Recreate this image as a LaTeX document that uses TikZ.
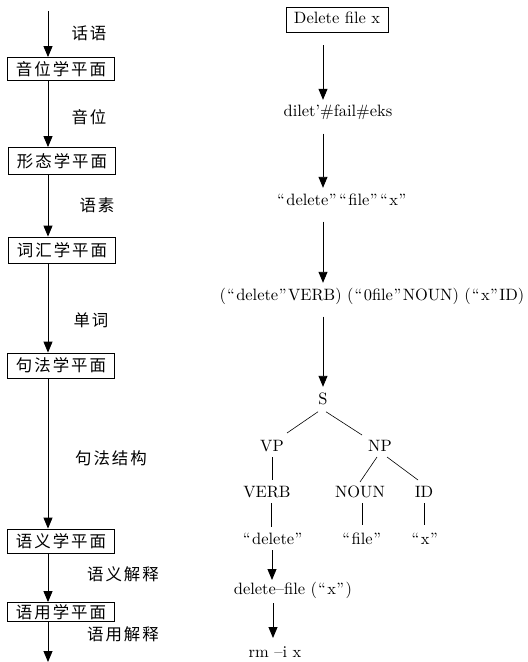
\documentclass[tikz,border=0pt]{standalone}
\usepackage{fontspec}
\newfontfamily\cjk[LetterSpace=12]{Noto Sans CJK SC}
\newfontfamily\lat{lmroman10-regular}[Extension=.otf]
\usetikzlibrary{arrows.meta}
\newcommand\oq{\kern1pt“\kern1.5pt}
\newcommand\cq{\kern0.5pt”\kern1.5pt}
\begin{document}
\begin{tikzpicture}[x=1bp,y=-1bp,
  arr/.style={line width=0.9bp,-{Triangle[width=9bp,length=11bp]}},
  plane/.style={draw,line width=0.8bp,inner sep=0pt,minimum width=107bp,
    font=\cjk\fontsize{16.5}{18}\selectfont},
  lab/.style={font=\cjk\fontsize{16.5}{18}\selectfont,inner sep=0pt},
  txt/.style={font=\lat\fontsize{16.5}{20}\selectfont,inner sep=0pt,text height=12bp,text depth=3.5bp},
  tl/.style={line width=0.6bp},
  rarr/.style={arr,shorten <=13bp,shorten >=5bp}]
\useasboundingbox (0,0) rectangle (528,662);
% left chain
\coordinate (top) at (48,11);
\coordinate (bot) at (48,662);
\node[plane,minimum height=23bp] (b1) at (61,69) {音位学平面};
\node[plane,minimum height=27bp] (b2) at (62,161) {形态学平面};
\node[plane,minimum height=26bp] (b3) at (62,250) {词汇学平面};
\node[plane,minimum height=25bp] (b4) at (61,365.5) {句法学平面};
\node[plane,minimum height=24bp] (b5) at (61,541) {语义学平面};
\node[plane,minimum height=19bp] (b6) at (61,612) {语用学平面};
\draw[arr] (top) -- (top |- b1.north);
\draw[arr] (b1.south -| top) -- (b2.north -| top);
\draw[arr] (b2.south -| top) -- (b3.north -| top);
\draw[arr] (b3.south -| top) -- (b4.north -| top);
\draw[arr] (b4.south -| top) -- (b5.north -| top);
\draw[arr] (b5.south -| top) -- (b6.north -| top);
\draw[arr] (b6.south -| top) -- (bot);
\node[lab] (l1) at (89,33) {话语};
\node[lab] (l2) at (89,117) {音位};
\node[lab] (l3) at (97,205) {语素};
\node[lab] (l4) at (91,320) {单词};
\node[lab] (l5) at (111,458) {句法结构};
\node[lab] (l6) at (123,574) {语义解释};
\node[lab] (l7) at (123,634) {语用解释};
% right chain
\coordinate (ax) at (323,0);
\node[txt,draw,line width=0.8bp,inner xsep=8bp,minimum height=25bp] (d0) at (337,19.5) {Delete file x};
\node[txt] (d1) at (338,112.75) {dilet’\#fail\#eks};
\node[txt] (d2) at (342,200.75) {\oq delete\cq\oq file\cq\oq x\cq};
\node[txt] (d3) at (372,295.75) {(\oq delete\cq VERB) (\oq 0file\cq NOUN) (\oq x\cq ID)};
\node[txt] (S) at (323,399.75) {S};
\draw[rarr] (d0.south -| ax) -- (d1.north -| ax);
\draw[rarr] (d1.south -| ax) -- (d2.north -| ax);
\draw[rarr] (d2.south -| ax) -- (d3.north -| ax);
\draw[rarr] (d3.south -| ax) -- (S.north -| ax);
% tree
\node[txt] (VP) at (272,447) {VP};
\node[txt] (NP) at (380,447) {NP};
\node[txt] (VERB) at (267,493) {VERB};
\node[txt] (NOUN) at (360,493) {NOUN};
\node[txt] (ID) at (424,493) {ID};
\node[txt] (qd) at (273,540) {\oq delete\cq};
\node[txt] (qf) at (362,540) {\oq file\cq};
\node[txt] (qx) at (425,540) {\oq x\cq};
\node[txt] (df) at (293,590) {delete–file (\oq x\cq)};
\node[txt] (rm) at (275,653) {rm –i x};
\draw[tl] ([shift={(-5,12)}]S.center) -- ([shift={(15,-14)}]VP.center);
\draw[tl] ([shift={(3,12)}]S.center) -- ([shift={(-18,-12)}]NP.center);
\draw[tl] ([shift={(0,10)}]VP.center) -- ([shift={(5,-13)}]VERB.center);
\draw[tl] ([shift={(-3,10)}]NP.center) -- ([shift={(0,-11)}]NOUN.center);
\draw[tl] ([shift={(7,10)}]NP.center) -- ([shift={(-6,-13)}]ID.center);
\draw[tl] ([shift={(4,10)}]VERB.center) -- ([shift={(-2,-13)}]qd.center);
\draw[tl] ([shift={(2,10)}]NOUN.center) -- ([shift={(0,-15)}]qf.center);
\draw[tl] ([shift={(0,10)}]ID.center) -- ([shift={(-1,-15)}]qx.center);
\draw[arr] ([shift={(-1,10)}]qd.center) -- ([shift={(-21,-10)}]df.center);
\draw[arr] ([shift={(-20,13)}]df.center) -- ([shift={(-2,-15)}]rm.center);
\end{tikzpicture}
\end{document}
